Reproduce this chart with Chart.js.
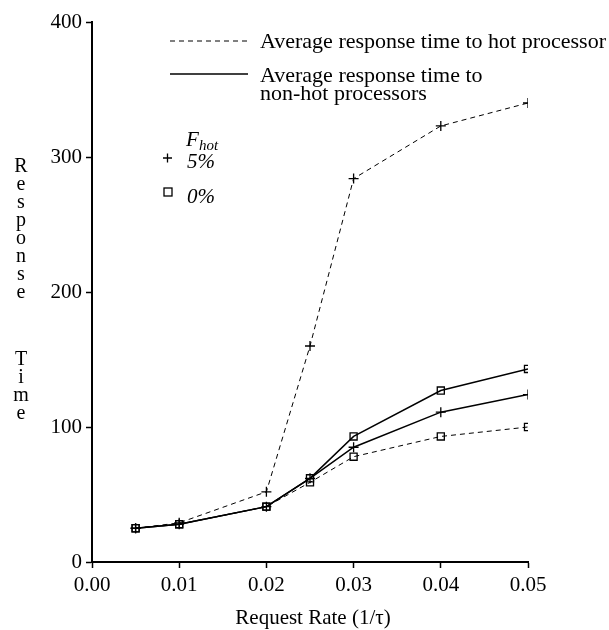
<!DOCTYPE html>
<html lang="en">
<head>
  <meta charset="UTF-8">
  <title>Response Time vs Request Rate</title>
  <script src="https://cdn.jsdelivr.net/npm/chart.js"></script>
  <style>
    html, body { margin: 0; padding: 0; background: #fff; }
    #wrap { width: 609px; height: 630px; }
  </style>
</head>
<body>
  <div id="wrap"><canvas id="rtChart"></canvas></div>

  <script>
    // Request rates (1/tau)
    const rates = [0.005, 0.01, 0.02, 0.025, 0.03, 0.04, 0.05];

    // Response times
    const hot5 = [25, 29, 52, 160, 284, 323, 340];      // hot processor, Fhot 5%
    const nonHot5 = [25, 28, 41, 62, 85, 111, 124];     // non-hot, Fhot 5%
    const nonHot0 = [25, 28, 41, 62, 93, 127, 143];     // non-hot, Fhot 0%
    const hot0 = [25, 28, 41, 59, 78, 93, 100];         // hot processor, Fhot 0%

    const xTicks = [0.00, 0.01, 0.02, 0.03, 0.04, 0.05];
    const yTicks = [0, 100, 200, 300, 400];

    const serif = '"Liberation Serif", "DejaVu Serif", serif';

    function pts(vals) {
      return rates.map((r, i) => ({ x: r, y: vals[i] }));
    }

    function series(vals, dashed, marker) {
      return {
        data: pts(vals),
        borderColor: '#000',
        borderWidth: dashed ? 1 : 1.5,
        borderDash: dashed ? [5, 4] : [],
        pointStyle: marker,
        pointRadius: 5,
        pointBorderWidth: 1.3,
        pointBorderColor: '#000',
        pointBackgroundColor: 'rgba(255,255,255,0)',
        tension: 0,
        fill: false
      };
    }

    // legend, axis titles drawn by hand
    const annotations = {
      id: 'annotations',
      afterDraw(chart) {
        const c = chart.ctx;
        c.save();
        c.fillStyle = '#000';
        c.strokeStyle = '#000';
        c.textBaseline = 'middle';

        // line legend
        c.lineWidth = 1;
        c.setLineDash([5, 4]);
        c.beginPath(); c.moveTo(170, 41); c.lineTo(248, 41); c.stroke();
        c.setLineDash([]);
        c.lineWidth = 1.5;
        c.beginPath(); c.moveTo(170, 74); c.lineTo(248, 74); c.stroke();

        c.font = '22px ' + serif;
        c.textAlign = 'left';
        c.fillText('Average response time to hot processor', 260, 42);
        c.fillText('Average response time to', 260, 76);
        c.fillText('non-hot processors', 260, 94);

        // marker legend
        c.font = 'italic 21px ' + serif;
        c.fillText('F', 186, 140);
        c.font = 'italic 15px ' + serif;
        c.fillText('hot', 199, 146);
        c.font = 'italic 21px ' + serif;
        c.fillText('5%', 187, 162);
        c.fillText('0%', 187, 197);

        c.lineWidth = 1.3;
        c.beginPath();
        c.moveTo(163, 158); c.lineTo(172, 158);
        c.moveTo(167.5, 153.5); c.lineTo(167.5, 162.5);
        c.stroke();
        c.strokeRect(164, 188, 8, 8);

        // vertical stacked y title
        c.font = '20px ' + serif;
        c.textAlign = 'center';
        const word1 = 'Response';
        const word2 = 'Time';
        for (let i = 0; i < word1.length; i++) {
          c.fillText(word1[i], 21, 167 + i * 18);
        }
        for (let i = 0; i < word2.length; i++) {
          c.fillText(word2[i], 21, 360 + i * 18);
        }

        // x title
        c.font = '21px ' + serif;
        c.fillText('Request Rate (1/\u03c4)', 313, 618);
        c.restore();
      }
    };

    const ctx = document.getElementById('rtChart').getContext('2d');
    new Chart(ctx, {
      type: 'line',
      data: {
        datasets: [
          series(hot5, true, 'cross'),
          series(nonHot5, false, 'cross'),
          series(nonHot0, false, 'rect'),
          series(hot0, true, 'rect')
        ]
      },
      options: {
        responsive: true,
        maintainAspectRatio: false,
        animation: false,
        layout: { padding: { left: 0, right: 81, top: 22, bottom: 0 } },
        plugins: {
          legend: { display: false },
          tooltip: { enabled: false }
        },
        scales: {
          x: {
            type: 'linear',
            min: 0,
            max: 0.05,
            afterBuildTicks(scale) {
              scale.ticks = xTicks.map(v => ({ value: v }));
            },
            afterFit(scale) { scale.height = 68; },
            ticks: {
              color: '#000',
              font: { family: serif, size: 21 },
              padding: 5,
              maxRotation: 0,
              callback: v => v.toFixed(2)
            },
            grid: {
              display: true,
              drawOnChartArea: false,
              drawTicks: true,
              tickLength: 6,
              tickWidth: 1.5,
              color: '#000'
            },
            border: { display: true, color: '#000', width: 2 }
          },
          y: {
            type: 'linear',
            min: 0,
            max: 400,
            afterBuildTicks(scale) {
              scale.ticks = yTicks.map(v => ({ value: v }));
            },
            afterFit(scale) { scale.width = 92; },
            ticks: {
              color: '#000',
              font: { family: serif, size: 21 },
              padding: 4
            },
            grid: {
              display: true,
              drawOnChartArea: false,
              drawTicks: true,
              tickLength: 6,
              tickWidth: 1.5,
              color: '#000'
            },
            border: { display: true, color: '#000', width: 2 }
          }
        }
      },
      plugins: [annotations]
    });
  </script>
</body>
</html>
